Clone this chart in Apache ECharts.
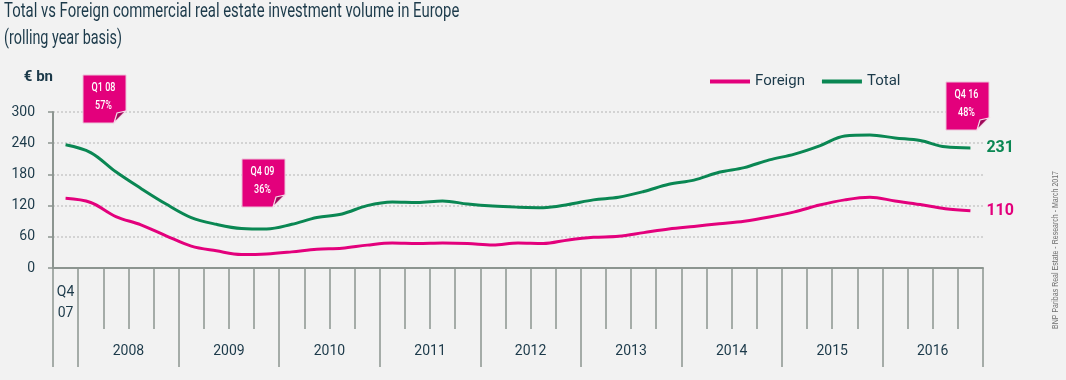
<!DOCTYPE html>
<html><head><meta charset="utf-8">
<script src="https://cdn.jsdelivr.net/npm/echarts@6/dist/echarts.min.js"></script>
<style>html,body{margin:0;padding:0;background:#f2f2f2}#c{width:1066px;height:380px}</style>
</head><body><div id="c"></div>
<script>
// ---- data ----
const quarters = ['Q4 07','Q1 08','Q2 08','Q3 08','Q4 08','Q1 09','Q2 09','Q3 09','Q4 09','Q1 10','Q2 10','Q3 10','Q4 10','Q1 11','Q2 11','Q3 11','Q4 11','Q1 12','Q2 12','Q3 12','Q4 12','Q1 13','Q2 13','Q3 13','Q4 13','Q1 14','Q2 14','Q3 14','Q4 14','Q1 15','Q2 15','Q3 15','Q4 15','Q1 16','Q2 16','Q3 16','Q4 16'];
const years = ['2008','2009','2010','2011','2012','2013','2014','2015','2016'];
const totalValues = [237,222,185,153,123,97,84,76,75,84,97,104,120,127,126,129,123,119,117,116,122,131,136,147,161,169,184,193,208,219,235,254,256,250,245,233,231];
const foreignValues = [134,126,99,83,62,42,33,26,27,31,36,38,44,48,47,48,47,44,48,47,54,59,61,68,75,80,85,90,98,108,121,131,136,129,122,114,110];
const calloutTexts = [['Q1 08','57%'],['Q4 09','36%'],['Q4 16','48%']];
const titleText = 'Total vs Foreign commercial real estate investment volume in Europe';
const subtitleText = '(rolling year basis)';
const sourceText = 'BNP Paribas Real Estate - Research - March 2017';

// ---- layout / style ----
const FONT = 'Roboto, sans-serif';
const INK = '#1c3a4a';
const PINK = '#e3007c';
const GREEN = '#0a8753';
const AXIS = '#8c9590';
const calloutPos = [[83,75],[242,159],[946,82]];

const boundaryCats = Array.from({length: quarters.length + 1}, (_, i) => 'b' + i);
const yearAt = i => (i >= 3 && (i - 3) % 4 === 0) ? years[(i - 3) / 4] : null;

function callout(x, y, t1, t2) {
  const w = 43, h = 48, c = 12;
  return {
    type: 'group', x: x, y: y,
    children: [
      { type: 'polygon', z: 100, shape: { points: [[0,0],[w,0],[w,h-c],[w-c,h],[0,h]] },
        style: { fill: PINK, stroke: '#ecc3d9', lineWidth: 1 } },
      { type: 'polygon', z: 101, shape: { points: [[w-c,h],[w-c+3,h-c+2],[w,h-c]] },
        style: { fill: '#9e0a5a', stroke: '#f4dbe8', lineWidth: 1.2 } },
      { type: 'text', z: 102, x: w/2 - 1, y: 13, scaleX: 0.75, style: { text: t1, fill: '#fff', font: '500 12px ' + FONT, align: 'center', verticalAlign: 'middle' } },
      { type: 'text', z: 102, x: w/2 - 1, y: 31, scaleX: 0.75, style: { text: t2, fill: '#fff', font: '500 12px ' + FONT, align: 'center', verticalAlign: 'middle' } }
    ]
  };
}

const chart = echarts.init(document.getElementById('c'));
chart.setOption({
  backgroundColor: '#f2f2f2',
  animation: false,
  legend: {
    data: ['Foreign', 'Total'], left: 705, top: 69, icon: 'rect', itemWidth: 40, itemHeight: 4, itemGap: 17,
    textStyle: { fontFamily: FONT, fontSize: 15, color: INK }
  },
  grid: { left: 53, right: 83, top: 112, bottom: 112, containLabel: false },
  xAxis: [
    {
      type: 'category', data: quarters, boundaryGap: true, position: 'bottom',
      axisLine: { onZero: false, lineStyle: { color: AXIS, width: 2 } },
      axisTick: { show: true, interval: 0, length: 61, lineStyle: { color: AXIS, width: 1.5 } },
      axisLabel: { interval: i => i === 0, formatter: v => v.replace(' ', '\n'), fontFamily: FONT, fontSize: 14, lineHeight: 21, color: INK, margin: 14 }
    },
    {
      type: 'category', data: boundaryCats, boundaryGap: false, position: 'bottom',
      axisLine: { show: false, onZero: false },
      axisTick: { show: true, interval: i => i === 0 || (i - 1) % 4 === 0, length: 99, lineStyle: { color: AXIS, width: 1.5 } },
      axisLabel: { interval: i => yearAt(i) !== null, formatter: (v, i) => yearAt(i) || '', fontFamily: FONT, fontSize: 14, color: INK, margin: 76 }
    }
  ],
  yAxis: {
    type: 'value', min: 0, max: 300, interval: 60,
    name: '€ bn', nameLocation: 'end', nameGap: 35,
    nameTextStyle: { fontFamily: FONT, fontSize: 15, fontWeight: 'bold', color: INK, align: 'right', verticalAlign: 'middle' },
    axisLine: { show: true, lineStyle: { color: AXIS, width: 2 } },
    axisTick: { show: true, length: 5, lineStyle: { color: AXIS, width: 1.5 } },
    axisLabel: { fontFamily: FONT, fontSize: 14, color: INK, margin: 18 },
    splitLine: { show: true, lineStyle: { color: '#c9c9c9', type: [2, 2], width: 1.5 } }
  },
  series: [
    { name: 'Foreign', type: 'line', data: foreignValues, xAxisIndex: 0, smooth: 0.35, symbol: 'none',
      lineStyle: { color: PINK, width: 3 }, itemStyle: { color: PINK },
      endLabel: { show: true, formatter: '{c}', distance: 16, fontFamily: FONT, fontSize: 16, fontWeight: 'bold', color: PINK } },
    { name: 'Total', type: 'line', data: totalValues, xAxisIndex: 0, smooth: 0.35, symbol: 'none',
      lineStyle: { color: GREEN, width: 3 }, itemStyle: { color: GREEN },
      endLabel: { show: true, formatter: '{c}', distance: 16, fontFamily: FONT, fontSize: 16, fontWeight: 'bold', color: GREEN } }
  ],
  graphic: [
    { type: 'text', x: 4, y: 2, scaleX: 0.745, style: { text: titleText, fill: INK, font: '20px ' + FONT, verticalAlign: 'top' } },
    { type: 'text', x: 4, y: 29, scaleX: 0.72, style: { text: subtitleText, fill: INK, font: '20px ' + FONT, verticalAlign: 'top' } },
    ...calloutTexts.map((t, k) => callout(calloutPos[k][0], calloutPos[k][1], t[0], t[1])),
    { type: 'text', x: 1056, y: 250, rotation: Math.PI / 2, scaleX: 0.78,
      style: { text: sourceText, fill: '#707070', font: '9px "Liberation Sans", Arial, sans-serif', align: 'center', verticalAlign: 'middle' } }
  ]
});
</script></body></html>
